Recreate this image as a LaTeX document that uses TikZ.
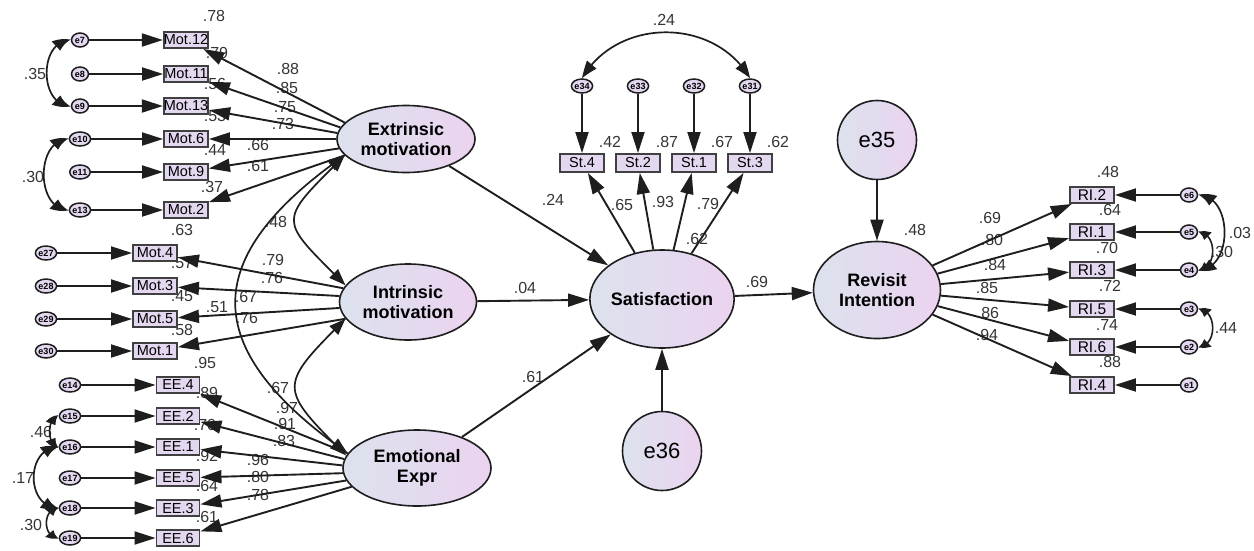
\documentclass[tikz,border=0pt]{standalone}
\usepackage{fontspec}
\setmainfont{Liberation Sans}
\usetikzlibrary{arrows.meta,bending,shapes.geometric}
\definecolor{latL}{HTML}{DCE2EE}
\definecolor{latR}{HTML}{EBD3EF}
\definecolor{boxc}{HTML}{E4D8F0}
\definecolor{ink}{HTML}{1E1E1E}
\begin{document}
\begin{tikzpicture}[x=1pt,y=1pt,
  lat/.style={ellipse,draw=ink,line width=1.6pt,left color=latL,right color=latR,inner sep=0pt,align=center,font=\fontsize{18}{20}\selectfont\bfseries},
  res/.style={circle,draw=ink,line width=1.6pt,left color=latL,right color=latR,inner sep=0pt,minimum size=79pt,font=\fontsize{22}{22}\selectfont},
  ind/.style={draw=ink!85,line width=1.9pt,fill=boxc,minimum width=44pt,minimum height=16pt,inner sep=0pt,font=\fontsize{14.5}{14.5}\selectfont},
  err/.style={ellipse,draw=ink,line width=1.5pt,fill=boxc,minimum width=17pt,minimum height=14pt,inner sep=0pt,font=\fontsize{9}{9}\selectfont\bfseries},
  lab/.style={inner sep=0pt,text=ink!90,font=\fontsize{16}{16}\selectfont},
  arr/.style={line width=1.9pt,draw=ink,-{Triangle[length=21pt,width=13pt]}},
  cov/.style={line width=1.7pt,draw=ink,{Triangle[length=17pt,width=12pt,bend]}-{Triangle[length=17pt,width=12pt,bend]}},
  covs/.style={line width=1.6pt,draw=ink,{Triangle[length=11pt,width=10pt,bend]}-{Triangle[length=11pt,width=10pt,bend]}}]
\fill[white] (0,0) rectangle (1254,-550);
\path[use as bounding box] (0,0) rectangle (1254,-550);
% labels
\foreach \x/\y/\t in {214/16/.78,217/53/.79,215/84/.56,215/116/.53,215/150/.44,212/187/.37,
  288/69/.88,287/88/.85,285/107/.75,283/124/.73,258/145/.66,258/166/.61,35/74/.35,33/177/.30,276/222/.48,
  182/230/.63,182/263/.57,182/296/.45,182/330/.58,273/260/.79,272/278/.76,246/297/.67,217/307/.51,247/318/.76,
  205/363/.95,207/393/.89,205/425/.70,207/456/.92,207/486/.64,207/517/.61,
  278/388/.67,287/408/.97,285/424/.91,284/441/.83,258/460/.96,258/477/.80,258/495/.78,
  41/432/.46,23/478/.17,31/525/.30,
  664/20/.24,610/142/.42,667/142/.87,722/142/.67,778/142/.62,
  622/205/.65,663/202/.93,708/204/.79,697/239/.62,
  553/200/.24,525/288/.04,533/377/.61,757/282/.69,915/230/.48,
  1108/172/.48,1110/210/.64,1107/248/.70,1110/286/.72,1107/325/.74,1110/362/.88,
  990/218/.69,992/240/.80,995/265/.84,987/288/.85,988/313/.86,987/335/.94,
  1240/233/.03,1222/252/.30,1226/328/.44}
  \node[lab] (l-\x-\y) at (\x,-\y) {\t};
% latent variables
\node[lat,minimum width=138pt,minimum height=67pt] (ext) at (406,-139) {Extrinsic\\motivation};
\node[lat,minimum width=137pt,minimum height=76pt] (int) at (408,-302) {Intrinsic\\motivation};
\node[lat,minimum width=148pt,minimum height=76pt] (emo) at (417,-468) {Emotional\\Expr};
\node[lat,minimum width=129pt,minimum height=98pt] (sat) at (662,-299) {Satisfaction};
\node[lat,minimum width=127pt,minimum height=97pt] (rev) at (877,-290) {Revisit\\Intention};
\node[res] (e35) at (877,-140) {e35};
\node[res] (e36) at (662,-451) {e36};
% Extrinsic indicators
\foreach \n/\t/\e/\y in {m12/Mot.12/e7/40,m11/Mot.11/e8/74,m13/Mot.13/e9/106,m6/Mot.6/e10/139,m9/Mot.9/e11/172,m2/Mot.2/e13/210}{
  \node[ind] (\n) at (186,-\y) {\t};
  \node[err] (\e) at (80,-\y) {\e};
  \draw[arr] (\e) -- (\n);
}
% Intrinsic indicators
\foreach \n/\t/\e/\y in {m4/Mot.4/e27/253,m3/Mot.3/e28/286,m5/Mot.5/e29/319,m1/Mot.1/e30/351}{
  \node[ind] (\n) at (155,-\y) {\t};
  \node[err] (\e) at (46,-\y) {\e};
  \draw[arr] (\e) -- (\n);
}
% Emotional indicators
\foreach \n/\t/\e/\y in {ee4/EE.4/e14/385,ee2/EE.2/e15/416,ee1/EE.1/e16/447,ee5/EE.5/e17/478,ee3/EE.3/e18/508,ee6/EE.6/e19/538}{
  \node[ind,minimum width=43pt] (\n) at (178,-\y) {\t};
  \node[err] (\e) at (70,-\y) {\e};
  \draw[arr] (\e) -- (\n);
}
% Satisfaction indicators
\foreach \n/\t/\e/\x in {st4/St.4/e34/582,st2/St.2/e33/638,st1/St.1/e32/694,st3/St.3/e31/750}{
  \node[ind,minimum height=18pt] (\n) at (\x,-163) {\t};
  \node[err] (\e) at (\x,-86) {\e};
  \draw[arr] (\e) -- (\n);
  \draw[arr] (sat) -- (\n);
}
% Revisit indicators
\foreach \n/\t/\e/\y in {ri2/RI.2/e6/195,ri1/RI.1/e5/232,ri3/RI.3/e4/270,ri5/RI.5/e3/309,ri6/RI.6/e2/347,ri4/RI.4/e1/385}{
  \node[ind,font=\fontsize{15.5}{15.5}\selectfont] (\n) at (1092,-\y) {\t};
  \node[err] (\e) at (1189,-\y) {\e};
  \draw[arr] (\e) -- (\n);
  \draw[arr] (rev) -- (\n);
}
% loadings
\foreach \b/\a in {m12/165,m11/170,m13/175,m6/180,m9/188,m2/195} \draw[arr] (ext.\a) -- (\b);
\foreach \b/\a in {m4/168,m3/175,m5/185,m1/195} \draw[arr] (int.\a) -- (\b);
\foreach \b/\a in {ee4/168,ee2/173,ee1/178,ee5/184,ee3/190,ee6/196} \draw[arr] (emo.\a) -- (\b);
% structural paths
\draw[arr] (ext) -- (sat);
\draw[arr] (int) -- (sat);
\draw[arr] (emo) -- (sat);
\draw[arr] (sat) -- (rev);
\draw[arr] (e36) -- (sat);
\draw[arr] (e35) -- (rev);
% latent covariances
\draw[cov] (ext.195) to[out=225,in=135,looseness=1.9] (int.165);
\draw[cov] (ext.195) to[out=215,in=145,looseness=1.55] (emo.168);
\draw[cov] (int.195) to[out=225,in=135,looseness=1.8] (emo.170);
% error covariances
\draw[cov] (e7.west) to[out=180,in=180,looseness=1.25] (e9.west);
\draw[cov] (e10.west) to[out=180,in=180,looseness=1.2] (e13.west);
\draw[covs] (e15.west) to[out=180,in=180,looseness=1.0] (e16.west);
\draw[cov] (e16.west) to[out=180,in=180,looseness=1.4] (e18.west);
\draw[covs] (e18.west) to[out=180,in=180,looseness=1.4] (e19.west);
\draw[cov] (e34.north) to[out=60,in=120,looseness=1.08] (e31.north);
\draw[cov] (e6.east) to[out=0,in=0,looseness=1.2] (e4.east);
\draw[covs] (e5.east) to[out=0,in=0,looseness=1.3] (e4.east);
\draw[covs] (e3.east) to[out=0,in=0,looseness=1.3] (e2.east);
\end{tikzpicture}
\end{document}
